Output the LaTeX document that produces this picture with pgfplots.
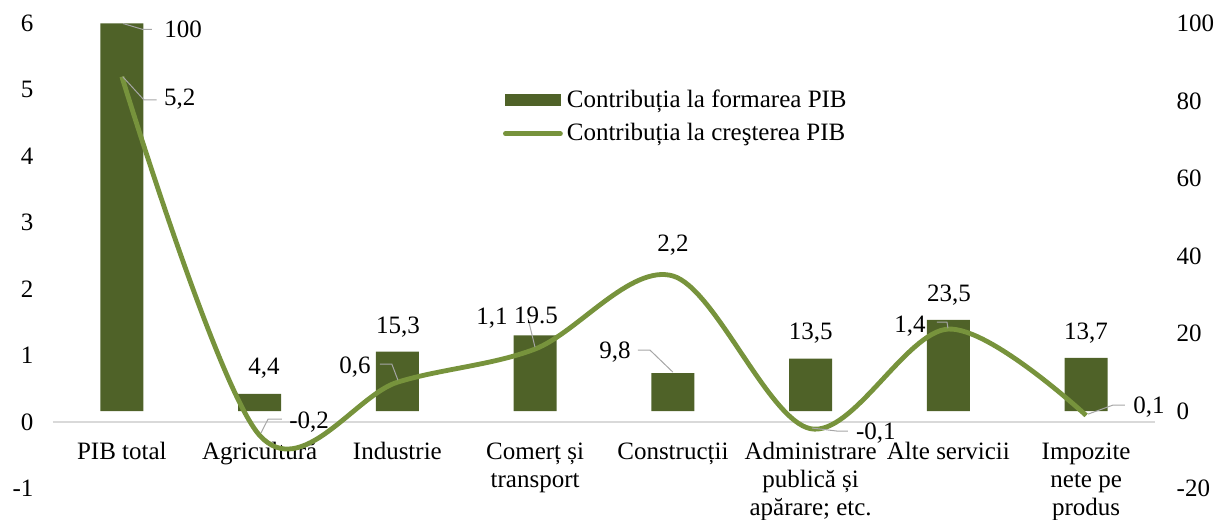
\documentclass[border=0pt]{standalone}
\usepackage{fontspec}
\setmainfont{Liberation Serif}
\usepackage{pgfplots}
\pgfplotsset{compat=1.18}
\usetikzlibrary{calc}
\definecolor{barcol}{HTML}{4F6228}
\definecolor{linecol}{HTML}{77933C}
\definecolor{leadcol}{HTML}{A6A6A6}
\definecolor{zerocol}{HTML}{D9D9D9}
\newcommand{\lbl}{\fontsize{12.5}{14}\selectfont}
\begin{document}
\begin{tikzpicture}
\pgfplotsset{
  common/.style={
    scale only axis, width=551pt, height=232.5pt,
    xmin=-0.5, xmax=7.5, enlargelimits=false,
    clip=false,
    /pgf/number format/assume math mode=true,
    /pgf/number format/use comma,
    tick label style={font=\lbl},
    major tick length=0pt,
  }
}
\begin{axis}[common, name=bars,
  axis x line=none, axis y line*=right,
  y axis line style={draw=none},
  ymin=-20, ymax=100, ytick={-20,0,...,100},
  yticklabel style={xshift=7.3pt},
  ybar, bar width=21.5pt,
]
\addplot[fill=barcol, draw=none] coordinates {(0,100) (1,4.4) (2,15.3) (3,19.5) (4,9.8) (5,13.5) (6,23.5) (7,13.7)};
\end{axis}
\begin{axis}[common, name=lax,
  axis x line*=middle, axis y line*=left,
  y axis line style={draw=none},
  x axis line style={draw=zerocol, line width=0.75pt, -},
  hide obscured x ticks=false, hide obscured y ticks=false,
  ymin=-1, ymax=6, ytick={-1,0,...,6},
  yticklabel style={xshift=-6.3pt},
  xtick={0,...,7},
  xticklabels={PIB total, Agricultură, Industrie, {Comerț și\\transport}, Construcții, {Administrare\\publică și\\apărare; etc.}, Alte servicii, {Impozite\\nete pe\\produs}},
  xticklabel style={align=center, yshift=-6.75pt, anchor=north},
  legend style={at={(0.408,0.8665)}, anchor=north west, draw=none, fill=none, font=\lbl, cells={anchor=west}, row sep=2.5pt, inner sep=0pt},
]
\addlegendimage{legend image code/.code={\fill[barcol] (0pt,-2.75pt) rectangle (27.5pt,2.75pt);}}
\addlegendentry{Contribuția la formarea PIB}
\addplot[linecol, line width=2.4pt, smooth, tension=0.55, mark=none,
  legend image code/.code={\draw[linecol, line width=2.4pt, line cap=round] (0pt,0pt) -- (27.5pt,0pt);}]
  coordinates {(0,5.2) (1,-0.2) (2,0.6) (3,1.1) (4,2.2) (5,-0.1) (6,1.4) (7,0.1)};
\addlegendentry{Contribuția la creşterea PIB}
% leader lines
\draw[leadcol, line width=0.5pt] (axis cs:0.008,6.0) -- (axis cs:0.153,5.91) -- (axis cs:0.218,5.91);
\draw[leadcol, line width=0.5pt] (axis cs:0.006,5.2) -- (axis cs:0.16,4.85) -- (axis cs:0.252,4.85);
\draw[leadcol, line width=0.5pt] (axis cs:1.01,-0.165) -- (axis cs:1.061,0.045) -- (axis cs:1.162,0.045);
\draw[leadcol, line width=0.5pt] (axis cs:1.873,0.872) -- (axis cs:1.96,0.872) -- (axis cs:2.004,0.632);
\draw[leadcol, line width=0.5pt] (axis cs:2.948,1.564) -- (axis cs:2.999,1.128);
\draw[leadcol, line width=0.5pt] (axis cs:3.746,1.083) -- (axis cs:3.834,1.083) -- (axis cs:4.0,0.752);
\draw[leadcol, line width=0.5pt] (axis cs:5.01,-0.09) -- (axis cs:5.191,-0.135) -- (axis cs:5.271,-0.135);
\draw[leadcol, line width=0.5pt] (axis cs:5.917,1.504) -- (axis cs:5.99,1.504) -- (axis cs:5.997,1.413);
\draw[leadcol, line width=0.5pt] (axis cs:7.014,0.12) -- (axis cs:7.195,0.256) -- (axis cs:7.282,0.256);
% value labels
\begin{scope}[every node/.style={font=\lbl, inner sep=0pt}]
\node at (axis cs:0.444,5.91) {100};
\node at (axis cs:0.42,4.86) {5,2};
\node at (axis cs:1.032,0.81) {4,4};
\node at (axis cs:1.359,0.0) {-0,2};
\node at (axis cs:2.004,1.43) {15,3};
\node at (axis cs:1.692,0.83) {0,6};
\node at (axis cs:2.686,1.56) {1,1};
\node at (axis cs:3.006,1.61) {19.5};
\node at (axis cs:4.0,2.66) {2,2};
\node at (axis cs:3.58,1.05) {9,8};
\node at (axis cs:5.0,1.34) {13,5};
\node at (axis cs:5.474,-0.165) {-0,1};
\node at (axis cs:6.004,1.91) {23,5};
\node at (axis cs:5.721,1.44) {1,4};
\node at (axis cs:6.999,1.34) {13,7};
\node at (axis cs:7.456,0.226) {0,1};
\end{scope}
\end{axis}
\pgfresetboundingbox
\path[use as bounding box] ($(lax.south west)+(-26.5pt,-15.25pt)$) rectangle ($(lax.north east)+(31.5pt,11.75pt)$);
\end{tikzpicture}
\end{document}
